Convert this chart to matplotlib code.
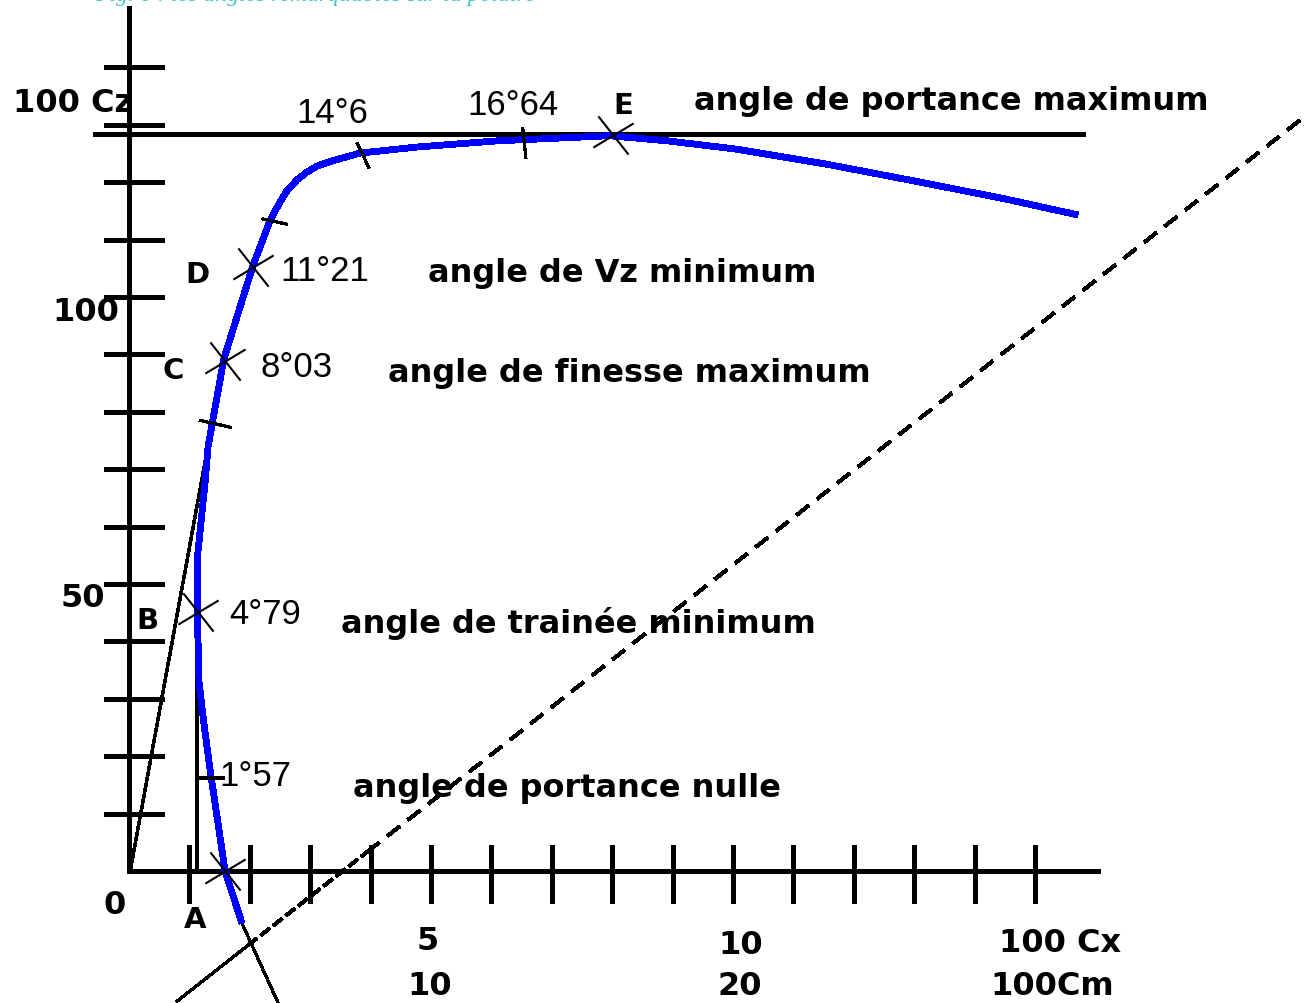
import numpy as np
import matplotlib
matplotlib.use("Agg")
import matplotlib.pyplot as plt
from matplotlib.path import Path

plt.rcParams['lines.scale_dashes'] = False
plt.rcParams['lines.antialiased'] = False

# polar curve Cz = f(Cx), in tick units (x: 1 tick = 1, y: 1 tick = 10)
cx = [1.87, 1.59, 1.34, 1.23, 1.16, 1.13, 1.13, 1.26, 1.31, 1.57, 2.05, 2.22,
      2.33, 2.45, 2.60, 2.78, 2.95, 3.11, 3.33, 3.83, 4.21, 4.74, 6.09, 6.51,
      7.96, 8.92, 10.03, 11.52, 13.01, 14.50, 15.71]
cz = [-9.1, 0.0, 17.8, 26.5, 32.9, 45.1, 54.4, 67.8, 74.0, 89.2, 105.4, 110.1,
      113.2, 115.6, 118.3, 120.4, 121.8, 122.8, 123.6, 125.1, 125.5, 126.1, 127.2,
      127.4, 128.1, 127.2, 125.8, 123.2, 120.2, 117.1, 114.3]

x_ticks = np.arange(1, 16)
y_ticks = np.arange(10, 150, 10)
cz_max = 128.4

# remarkable points (crosses) and their labels
pts_name = ['A', 'B', 'C', 'D', 'E']
pts_x = [1.59, 1.14, 1.59, 2.05, 8.01]
pts_z = [0.0, 45.1, 88.85, 105.2, 128.2]
name_pos = [(1.09, -7.8), (0.31, 44.3), (0.73, 87.8), (1.14, 104.5), (8.18, 134.0)]

angle_txt = ['14°6', '16°64', '11°21', '8°03', '4°79', '1°57']
angle_pos = [(3.36, 132.8), (6.36, 134.1), (3.25, 105.2), (2.78, 88.5), (2.25, 45.5), (2.09, 17.3)]

desc_txt = ['angle de portance maximum', 'angle de Vz minimum', 'angle de finesse maximum',
            'angle de trainée minimum', 'angle de portance nulle']
desc_pos = [(9.36, 134.8), (4.95, 104.9), (4.29, 87.5), (3.51, 43.9), (3.71, 15.2)]

# short construction ticks on the curve
small_ticks = [((3.78, 126.7), (3.97, 122.6)),
               ((6.52, 129.3), (6.57, 124.3)),
               ((2.22, 113.6), (2.61, 112.7)),
               ((1.18, 78.5), (1.68, 77.3)),
               ((1.14, 16.2), (1.56, 16.2))]

# tangent from origin, vertical at A, extension below the curve
tangent = ([0.02, 1.51], [0.0, 85.7])
vert_a = ([1.12, 1.12], [0.0, 39.9])
ext_low = ([1.84, 2.47], [-8.4, -23.0])

# dashed line (Cm)
dash_x = [0.80, 1.97, 3.94, 19.47]
dash_z = [-22.65, -12.95, 3.3, 131.5]

fig = plt.figure(figsize=(13.06, 10.04), dpi=100)
ax = fig.add_axes([0, 0, 1, 1])
ax.set_xlim(-2.136, 19.487)
ax.set_ylim(-23.0, 151.92)
ax.axis('off')

k = 'black'
# axes
ax.plot([0, 0], [0, 150.3], color=k, lw=2.3)
ax.plot([0, 16.04], [0, 0], color=k, lw=2.3)
ax.vlines(x_ticks, -5.6, 4.5, color=k, lw=2.3)
ax.hlines(y_ticks, -0.41, 0.58, color=k, lw=2.3)
ax.plot([-0.56, 15.79], [cz_max, cz_max], color=k, lw=2.3)

# construction lines
ax.plot(*tangent, color=k, lw=1.8)
ax.plot(*vert_a, color=k, lw=1.6)
ax.plot(*ext_low, color=k, lw=1.6)
ax.plot(dash_x[:2], dash_z[:2], color=k, lw=1.6)
ax.plot(dash_x[1:3], dash_z[1:3], color=k, lw=1.8, dashes=(8, 3))
ax.plot(dash_x[2:], dash_z[2:], color=k, lw=1.8, dashes=(10.8, 7.9))

# the polar
ax.plot(cx, cz, color='#0000ff', lw=4.2, solid_capstyle='butt', zorder=3)

for (a, b) in small_ticks:
    ax.plot([a[0], b[0]], [a[1], b[1]], color=k, lw=1.6, zorder=4)

# hand-drawn style cross marker
cross = Path([(-15, 19), (15, -19), (-20, -12), (20, 12)],
             [Path.MOVETO, Path.LINETO, Path.MOVETO, Path.LINETO])
ax.plot(pts_x, pts_z, ls='none', marker=cross, ms=29, mew=1.5, mec=k, zorder=4)

bold = dict(fontfamily='DejaVu Sans', fontweight='bold', color=k)
thin = dict(fontfamily='Liberation Sans', fontweight='normal', color=k)

for n, (x, z) in zip(pts_name, name_pos):
    ax.text(x, z, n, ha='center', va='center_baseline', fontsize=21, **bold)
for t, (x, z) in zip(angle_txt, angle_pos):
    ax.text(x, z, t, ha='center', va='center_baseline', fontsize=25, **thin)
for t, (x, z) in zip(desc_txt, desc_pos):
    ax.text(x, z, t, ha='left', va='center_baseline', fontsize=23, **bold)

ax.text(-0.93, 134.5, '100 Cz', ha='center', va='center_baseline', fontsize=23, **bold)
ax.text(-0.71, 98.1, '100', ha='center', va='center_baseline', fontsize=23, **bold)
ax.text(-0.76, 48.3, '50', ha='center', va='center_baseline', fontsize=23, **bold)
ax.text(-0.23, -5.2, '0', ha='center', va='center_baseline', fontsize=23, **bold)
ax.text(4.95, -11.5, '5', ha='center', va='center_baseline', fontsize=23, **bold)
ax.text(4.98, -19.3, '10', ha='center', va='center_baseline', fontsize=23, **bold)
ax.text(10.12, -12.2, '10', ha='center', va='center_baseline', fontsize=23, **bold)
ax.text(10.12, -19.3, '20', ha='center', va='center_baseline', fontsize=23, **bold)
ax.text(15.41, -11.9, '100 Cx', ha='center', va='center_baseline', fontsize=23, **bold)
ax.text(15.28, -19.3, '100Cm', ha='center', va='center_baseline', fontsize=23, **bold)

# caption at the top edge (cut off by the frame)
fig.text(0.073, 1.0 - 1.5 / 1004, 'Fig. 6 : les angles remarquables sur la polaire',
         ha='left', va='baseline', fontsize=17, fontstyle='italic',
         fontfamily='Liberation Serif', color='#40c8c8')

fig.savefig('out.png', dpi=100)
